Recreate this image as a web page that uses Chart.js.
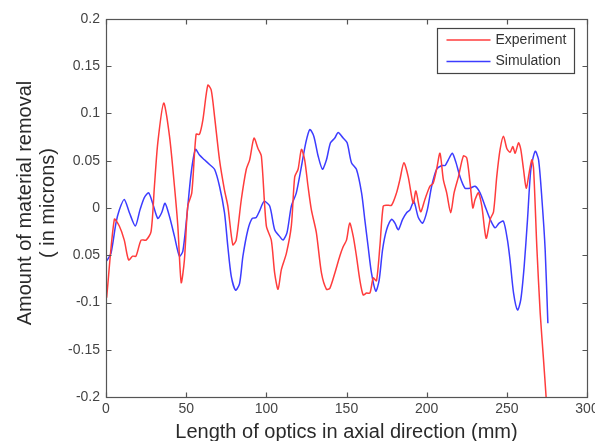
<!DOCTYPE html>
<html>
<head>
<meta charset="utf-8">
<script src="https://cdn.jsdelivr.net/npm/chart.js@4/dist/chart.umd.min.js"></script>
<style>
  html, body { margin: 0; padding: 0; background: #fff; overflow: hidden; width: 595px; height: 441px; }
  #wrap { width: 610px; height: 441px; }
</style>
</head>
<body>
<div id="wrap"><canvas id="chart" width="610" height="441"></canvas></div>
<script>
// Experiment curve (mm, microns)
const expX = [0.4, 5.2, 8.3, 11.4, 14.1, 16.6, 18.7, 21.9, 25, 28.1, 30.2, 32.3, 36, 39.6, 42.7, 44.8, 46.9, 48.9, 51, 53.5,
  56.2, 58.3, 60.4, 63.5, 65.6, 67.7, 70.8, 73.9, 76, 79.1, 81.2, 84.4, 87.5, 89.6, 92.3, 94.8, 96.9, 100, 103.1, 105.2,
  107.3, 109.4, 112.5, 115.6, 117.7, 119.8, 121.9, 123.9, 126, 128.1, 131.2, 134.4, 137.5, 139.6, 142.7, 145.8, 147.9, 150, 152, 154.2,
  156.2, 158.3, 160.4, 162.5, 164.6, 166.7, 168.7, 170.8, 172.9, 175, 178.1, 181.2, 183.3, 185.8, 188.5, 191.6, 193.3, 196.2, 198.9, 202,
  204, 206.2, 208.3, 210.4, 212.5, 215, 217.1, 219.8, 222.9, 225, 227.1, 228.8, 230.2, 232.3, 234.4, 237.1, 239.6, 241.7, 243.7, 245.8,
  247.9, 250, 252, 253.7, 255.2, 257.3, 258.7, 260.4, 262.1, 263.9, 265.6, 266.7, 268.7, 270.8, 272.9, 274.5];
const expY = [-0.095, -0.012, -0.019, -0.034, -0.055, -0.051, -0.051, -0.034, -0.034, -0.025, 0.023, 0.069, 0.111, 0.076, 0.023, -0.019, -0.079, -0.055, 0.002, 0.016,
  0.078, 0.078, 0.093, 0.130, 0.125, 0.097, 0.051, 0.019, 0.002, -0.039, -0.034, 0.009, 0.041, 0.051, 0.074, 0.063, 0.055, -0.019, -0.034, -0.069,
  -0.086, -0.065, -0.048, -0.019, 0.033, 0.041, 0.062, 0.051, 0.023, -0.002, -0.026, -0.069, -0.086, -0.085, -0.069, -0.051, -0.041, -0.034, -0.016, -0.030,
  -0.051, -0.076, -0.092, -0.090, -0.090, -0.074, -0.077, -0.041, 0.002, 0.003, 0.003, 0.016, 0.030, 0.048, 0.033, 0.005, 0.018, -0.004, 0.009, 0.023,
  0.026, 0.041, 0.058, 0.030, 0.016, -0.005, 0.016, 0.033, 0.055, 0.053, 0.026, 0.0, 0.009, 0.016, 0.002, -0.032, -0.012, -0.004, 0.033, 0.062,
  0.076, 0.063, 0.059, 0.065, 0.058, 0.069, 0.062, 0.041, 0.021, 0.037, 0.051, 0.041, -0.041, -0.111, -0.161, -0.2];

// Simulation curve
const simX = [0.4, 3.1, 6.2, 8.3, 11.4, 14.6, 18.3, 21.2, 23.9, 26.6, 29.1, 32.3, 34.7, 36.8, 39.6, 42.7, 45.8, 47.9, 50.4, 53.1,
  55.8, 58.3, 61.4, 64.6, 67.7, 70.8, 73.9, 76, 78.1, 80.8, 83.3, 85.4, 88.5, 91.2, 93.7, 95.8, 98.6, 102.1, 105.2, 108.3,
  110.4, 112.9, 115.6, 118.7, 121.9, 124.6, 127.1, 129.6, 132.3, 135, 137.5, 140, 142.7, 144.8, 147.9, 150.4, 153.1, 156.2, 159.4, 161.4,
  163.5, 165.6, 168.3, 170.4, 172.5, 175, 178.1, 180.2, 182.3, 185, 187.5, 189.6, 192, 194.8, 197.5, 200.4, 203.1, 206.2, 209.4, 211.5,
  213.5, 216, 218.3, 220.8, 223.9, 227.1, 230.2, 233.3, 236.4, 239.6, 242.7, 245.2, 247.9, 250.4, 252, 254.2, 256.7, 258.7, 260.8, 262.9,
  265, 267.7, 269.8, 271.9, 273.9, 275.6];
const simY = [-0.056, -0.048, -0.016, -0.002, 0.009, -0.005, -0.019, -0.002, 0.011, 0.016, 0.005, -0.011, -0.005, 0.005, -0.009, -0.030, -0.051, -0.046, -0.009, 0.037,
  0.062, 0.056, 0.051, 0.046, 0.041, 0.023, -0.005, -0.041, -0.072, -0.087, -0.080, -0.051, -0.023, -0.011, -0.010, -0.003, 0.007, 0.002, -0.023, -0.030,
  -0.034, -0.026, 0.002, 0.016, 0.044, 0.069, 0.083, 0.076, 0.055, 0.041, 0.051, 0.069, 0.074, 0.080, 0.074, 0.069, 0.048, 0.041, 0.016, -0.012,
  -0.041, -0.069, -0.088, -0.076, -0.044, -0.023, -0.012, -0.016, -0.023, -0.012, -0.005, -0.002, 0.007, -0.010, -0.016, -0.002, 0.023, 0.041, 0.045, 0.045,
  0.051, 0.058, 0.048, 0.033, 0.021, 0.021, 0.023, 0.016, 0.002, -0.012, -0.021, -0.016, -0.014, -0.034, -0.055, -0.090, -0.108, -0.097, -0.062, -0.012,
  0.041, 0.060, 0.051, 0.009, -0.044, -0.122];

// Tick labels as printed on the figure
const xTickLabels = ['0', '50', '100', '150', '200', '250', '300'];
const yTickLabels = ['0.2', '0.15', '0.1', '0.05', '0', '0.05', '-0.1', '-0.15', '-0.2'];

const seriesNames = ['Experiment', 'Simulation'];
const FONT = '"Liberation Sans", Arial, sans-serif';

function toPoints(xs, ys) {
    return xs.map((x, i) => ({ x: x, y: ys[i] }));
}

// box, inward ticks, legend and axis titles (matlab look)
const matlabFrame = {
    id: 'matlabFrame',
    afterDraw(chart) {
        const ctx = chart.ctx;
        const a = chart.chartArea;
        const xs = chart.scales.x, ys = chart.scales.y;
        const L = Math.round(a.left) + 0.5, R = Math.round(a.right) + 0.5;
        const T = Math.round(a.top) + 0.5, B = Math.round(a.bottom) + 0.5;
        ctx.save();
        ctx.strokeStyle = '#555';
        ctx.lineWidth = 1.2;
        ctx.strokeRect(L, T, R - L, B - T);
        ctx.beginPath();
        xs.ticks.forEach(t => {
            const px = Math.round(xs.getPixelForValue(t.value)) + 0.5;
            ctx.moveTo(px, B); ctx.lineTo(px, B - 5);
            ctx.moveTo(px, T); ctx.lineTo(px, T + 5);
        });
        ys.ticks.forEach(t => {
            const py = Math.round(ys.getPixelForValue(t.value)) + 0.5;
            ctx.moveTo(L, py); ctx.lineTo(L + 5, py);
            ctx.moveTo(R, py); ctx.lineTo(R - 5, py);
        });
        ctx.stroke();

        // legend
        const lx = 437.5, ly = 28.5, lw = 137, lh = 45;
        ctx.fillStyle = '#fff';
        ctx.fillRect(lx, ly, lw, lh);
        ctx.strokeStyle = '#444';
        ctx.lineWidth = 1.2;
        ctx.strokeRect(lx, ly, lw, lh);
        ctx.font = '14px ' + FONT;
        ctx.textBaseline = 'middle';
        ctx.textAlign = 'left';
        chart.data.datasets.forEach((ds, i) => {
            const yy = ly + 11.5 + i * 21.5;
            ctx.strokeStyle = ds.borderColor;
            ctx.lineWidth = 1.5;
            ctx.beginPath();
            ctx.moveTo(lx + 9, yy); ctx.lineTo(lx + 53, yy);
            ctx.stroke();
            ctx.fillStyle = '#333';
            ctx.fillText(ds.label, lx + 58, yy);
        });

        // axis titles
        ctx.fillStyle = '#2a2a2a';
        ctx.font = '20px ' + FONT;
        ctx.textAlign = 'center';
        ctx.textBaseline = 'alphabetic';
        ctx.fillText('Length of optics in axial direction (mm)', (a.left + a.right) / 2, 438);
        ctx.save();
        ctx.translate(0, 203);
        ctx.rotate(-Math.PI / 2);
        ctx.textBaseline = 'middle';
        ctx.fillText('Amount of material removal', 0, 25);
        ctx.fillText('( in microns)', 0, 48);
        ctx.restore();
        ctx.restore();
    }
};

const chart = new Chart(document.getElementById('chart'), {
    type: 'line',
    data: {
        datasets: [{
            label: seriesNames[0],
            data: toPoints(expX, expY),
            borderColor: 'rgb(255, 60, 60)',
            borderWidth: 1.5,
            pointRadius: 0,
            tension: 0.25
        }, {
            label: seriesNames[1],
            data: toPoints(simX, simY),
            borderColor: 'rgb(60, 60, 255)',
            borderWidth: 1.5,
            pointRadius: 0,
            tension: 0.25
        }]
    },
    options: {
        responsive: false,
        animation: false,
        layout: { padding: { left: 0, right: 23, top: 19, bottom: 0 } },
        plugins: {
            legend: { display: false },
            tooltip: { enabled: false }
        },
        scales: {
            x: {
                type: 'linear',
                min: 0, max: 300,
                grid: { display: false, drawTicks: false },
                border: { display: false },
                afterFit: s => { s.height = 44; },
                ticks: {
                    stepSize: 50,
                    padding: 4,
                    color: '#444',
                    font: { size: 14, family: FONT },
                    maxRotation: 0,
                    callback: (v) => xTickLabels[Math.round(v / 50)]
                }
            },
            y: {
                min: -0.2, max: 0.2,
                grid: { display: false, drawTicks: false },
                border: { display: false },
                afterFit: s => { s.width = 106; },
                ticks: {
                    stepSize: 0.05,
                    padding: 6,
                    color: '#444',
                    font: { size: 14, family: FONT },
                    callback: (v) => yTickLabels[Math.round((0.2 - v) / 0.05)]
                }
            }
        }
    },
    plugins: [matlabFrame]
});
</script>
</body>
</html>
